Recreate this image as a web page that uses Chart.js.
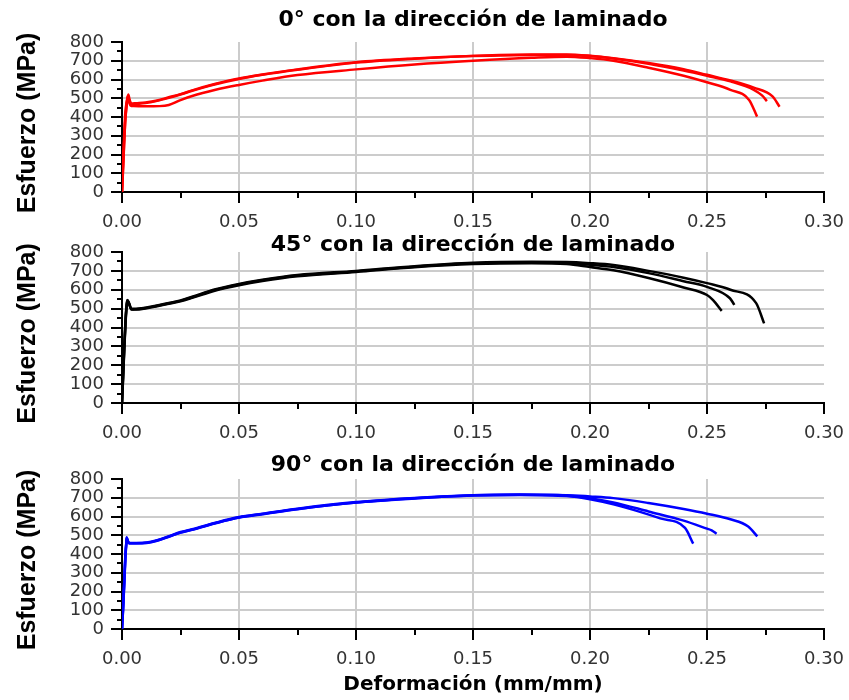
<!DOCTYPE html>
<html>
<head>
<meta charset="utf-8">
<script src="https://cdn.jsdelivr.net/npm/chart.js@4.4.1/dist/chart.umd.min.js"></script>
<style>
  html, body { margin: 0; padding: 0; background: #ffffff; }
  #wrap { position: relative; width: 849px; height: 700px; background: #ffffff; }
  #wrap canvas { position: absolute; left: 0; top: 0; }
</style>
</head>
<body>
<div id="wrap">
  <canvas id="panel0" width="849" height="700"></canvas>
  <canvas id="panel45" width="849" height="700"></canvas>
  <canvas id="panel90" width="849" height="700"></canvas>
</div>
<script>
// Tensile tests: stress (MPa) vs strain (mm/mm), three specimens per rolling direction

// 0° to rolling direction
const strain0A = [0, 0.0004, 0.0009, 0.0014, 0.0019, 0.0024, 0.003, 0.0036, 0.005, 0.01, 0.016, 0.02, 0.025, 0.03, 0.04, 0.05, 0.06, 0.075, 0.1, 0.125, 0.15, 0.175, 0.19, 0.2, 0.21, 0.225, 0.24, 0.25, 0.26, 0.268, 0.2714];
const stress0A = [0, 120, 260, 380, 450, 505, 480, 462, 458, 457, 458, 464, 490, 512, 545, 571, 594, 624, 654, 680, 700, 716, 722, 714, 700, 663, 620, 585, 545, 491, 402];
const strain0B = [0, 0.0004, 0.0009, 0.0014, 0.002, 0.0027, 0.0032, 0.004, 0.006, 0.01, 0.015, 0.02, 0.025, 0.03, 0.04, 0.05, 0.06, 0.075, 0.1, 0.125, 0.15, 0.175, 0.19, 0.2, 0.21, 0.225, 0.24, 0.25, 0.26, 0.27, 0.2735, 0.2756];
const stress0B = [0, 150, 300, 420, 480, 520, 495, 472, 474, 478, 488, 505, 522, 542, 577, 606, 627, 654, 692, 712, 725, 731, 731, 725, 712, 684, 648, 620, 590, 545, 515, 485];
const strain0C = [0, 0.0005, 0.001, 0.0015, 0.002, 0.0025, 0.0031, 0.004, 0.006, 0.01, 0.015, 0.02, 0.025, 0.03, 0.04, 0.05, 0.06, 0.075, 0.1, 0.125, 0.15, 0.175, 0.19, 0.2, 0.21, 0.225, 0.24, 0.25, 0.26, 0.27, 0.278, 0.281];
const stress0C = [0, 130, 280, 400, 470, 512, 490, 468, 470, 474, 486, 502, 520, 540, 575, 603, 625, 652, 690, 711, 726, 733, 734, 727, 714, 688, 655, 625, 595, 557, 510, 455];

// 45° to rolling direction
const strain45A = [0, 0.0005, 0.001, 0.0015, 0.002, 0.0023, 0.003, 0.004, 0.006, 0.01, 0.015, 0.02, 0.025, 0.03, 0.04, 0.05, 0.06, 0.075, 0.1, 0.125, 0.15, 0.175, 0.19, 0.2, 0.21, 0.225, 0.24, 0.25, 0.2526, 0.2563];
const stress45A = [0, 150, 300, 430, 520, 546, 530, 497, 495, 501, 513, 526, 539, 557, 596, 624, 646, 671, 694, 719, 736, 741, 736, 720, 703, 662, 612, 572, 545, 488];
const strain45B = [0, 0.0005, 0.001, 0.0015, 0.002, 0.0024, 0.003, 0.004, 0.006, 0.01, 0.015, 0.02, 0.025, 0.03, 0.04, 0.05, 0.06, 0.075, 0.1, 0.125, 0.15, 0.175, 0.19, 0.2, 0.21, 0.225, 0.24, 0.25, 0.2598, 0.2617];
const stress45B = [0, 140, 290, 420, 510, 540, 525, 495, 497, 503, 515, 528, 541, 560, 600, 628, 650, 675, 697, 722, 740, 745, 742, 732, 720, 688, 645, 615, 555, 520];
const strain45C = [0, 0.0005, 0.001, 0.0015, 0.002, 0.0023, 0.003, 0.004, 0.006, 0.01, 0.015, 0.02, 0.025, 0.03, 0.04, 0.05, 0.06, 0.075, 0.1, 0.125, 0.15, 0.175, 0.19, 0.2, 0.21, 0.225, 0.24, 0.25, 0.26, 0.271, 0.2744];
const stress45C = [0, 160, 310, 440, 525, 545, 528, 500, 499, 505, 517, 530, 543, 563, 603, 631, 653, 678, 700, 725, 743, 748, 747, 741, 731, 700, 664, 635, 600, 529, 422];

// 90° to rolling direction
const strain90A = [0, 0.0005, 0.001, 0.0015, 0.0018, 0.002, 0.0025, 0.003, 0.006, 0.0105, 0.015, 0.02, 0.025, 0.03, 0.04, 0.05, 0.06, 0.075, 0.1, 0.125, 0.15, 0.17, 0.19, 0.2, 0.21, 0.22, 0.23, 0.2406, 0.2441];
const stress90A = [0, 120, 260, 400, 450, 489, 470, 459, 459, 460, 472, 493, 515, 530, 565, 595, 613, 640, 675, 697, 712, 715, 709, 692, 665, 630, 590, 539, 455];
const strain90B = [0, 0.0005, 0.001, 0.0015, 0.0018, 0.002, 0.0025, 0.003, 0.006, 0.0105, 0.015, 0.02, 0.025, 0.03, 0.04, 0.05, 0.06, 0.075, 0.1, 0.125, 0.15, 0.17, 0.19, 0.2, 0.21, 0.225, 0.24, 0.25, 0.252, 0.2541];
const stress90B = [0, 110, 250, 390, 445, 484, 468, 458, 458, 461, 474, 495, 517, 532, 567, 597, 615, 642, 677, 699, 714, 717, 712, 698, 675, 627, 578, 535, 526, 508];
const strain90C = [0, 0.0005, 0.001, 0.0015, 0.0018, 0.002, 0.0025, 0.003, 0.006, 0.0105, 0.015, 0.02, 0.025, 0.03, 0.04, 0.05, 0.06, 0.075, 0.1, 0.125, 0.15, 0.17, 0.19, 0.2, 0.21, 0.225, 0.24, 0.25, 0.26, 0.2676, 0.2715];
const stress90C = [0, 130, 270, 410, 455, 487, 469, 457, 457, 459, 471, 492, 514, 529, 564, 594, 612, 639, 674, 696, 713, 716, 714, 707, 698, 672, 640, 615, 585, 547, 494];

// Axis ranges and tick steps
const strainMin = 0, strainMax = 0.30, strainStep = 0.05, strainMinorStep = 0.025;
const stressMin = 0, stressMax = 800, stressStep = 100, stressMinorStep = 50;

const panelTitles = [
  '0° con la dirección de laminado',
  '45° con la dirección de laminado',
  '90° con la dirección de laminado'
];
const yAxisTitle = 'Esfuerzo (MPa)';
const xAxisTitle = 'Deformación (mm/mm)';

const X_AXIS_H = 40;
const Y_AXIS_W = 122;
const EPS = 1e-6;

function toPoints(xs, ys) {
  return xs.map((x, i) => ({ x: x, y: ys[i] }));
}

// Tick marks (major + minor) drawn on both axes, outward
const axisTicks = {
  id: 'axisTicks',
  afterDatasetsDraw(chart) {
    const { ctx } = chart;
    const x = chart.scales.x, y = chart.scales.y;
    ctx.save();
    ctx.strokeStyle = '#000';
    ctx.lineWidth = 2;
    ctx.lineCap = 'butt';
    const nY = Math.round((stressMax - stressMin) / stressMinorStep);
    for (let i = 0; i <= nY; i++) {
      const v = stressMin + i * stressMinorStep;
      const py = Math.round(y.getPixelForValue(v));
      const major = Math.abs(v / stressStep - Math.round(v / stressStep)) < EPS;
      const len = major ? 11 : 5;
      ctx.beginPath();
      ctx.moveTo(x.left, py);
      ctx.lineTo(x.left - len, py);
      ctx.stroke();
    }
    const nX = Math.round((strainMax - strainMin) / strainMinorStep);
    for (let i = 0; i <= nX; i++) {
      const v = strainMin + i * strainMinorStep;
      const px = Math.round(x.getPixelForValue(v));
      const major = i % 2 === 0;
      const len = major ? 11 : 6;
      ctx.beginPath();
      ctx.moveTo(px, y.bottom);
      ctx.lineTo(px, y.bottom + len);
      ctx.stroke();
    }
    ctx.restore();
  }
};

// Panel heading and axis titles
const panelText = {
  id: 'panelText',
  afterDraw(chart, args, opts) {
    const { ctx, chartArea } = chart;
    const cx = (chartArea.left + chartArea.right) / 2;
    ctx.save();
    ctx.fillStyle = '#000';
    ctx.textAlign = 'center';
    ctx.textBaseline = 'alphabetic';
    ctx.font = 'bold 22px "DejaVu Sans"';
    ctx.fillText(opts.title, cx, opts.titleBaseline);

    ctx.save();
    ctx.translate(35, (chartArea.top + chartArea.bottom) / 2 + 6);
    ctx.rotate(-Math.PI / 2);
    ctx.font = 'bold 25px "Liberation Sans"';
    ctx.fillText(yAxisTitle, 0, 0);
    ctx.restore();

    if (opts.showXTitle) {
      ctx.font = 'bold 20px "DejaVu Sans"';
      ctx.fillText(xAxisTitle, cx, opts.xTitleBaseline);
    }
    ctx.restore();
  }
};

function makePanel(canvasId, title, series, color, geom) {
  const datasets = series.map(s => ({
    data: toPoints(s[0], s[1]),
    borderColor: color,
    backgroundColor: color,
    borderWidth: 2.5,
    pointRadius: 0,
    fill: false,
    cubicInterpolationMode: 'monotone'
  }));
  return new Chart(document.getElementById(canvasId), {
    type: 'line',
    data: { datasets: datasets },
    options: {
      responsive: false,
      animation: false,
      devicePixelRatio: 1,
      parsing: false,
      layout: {
        padding: {
          top: geom.top,
          bottom: 700 - geom.bottom - X_AXIS_H,
          left: 0,
          right: 25
        }
      },
      plugins: {
        legend: { display: false },
        tooltip: { enabled: false },
        title: { display: false },
        panelText: {
          title: title,
          titleBaseline: geom.titleBaseline,
          showXTitle: !!geom.showXTitle,
          xTitleBaseline: geom.xTitleBaseline
        }
      },
      scales: {
        x: {
          type: 'linear',
          min: strainMin,
          max: strainMax,
          afterFit: s => { s.height = X_AXIS_H; s.paddingLeft = 0; s.paddingRight = 0; },
          ticks: {
            stepSize: strainStep,
            autoSkip: false,
            maxRotation: 0,
            padding: 20,
            color: '#333',
            font: { family: 'DejaVu Sans', size: 18 },
            callback: v => Number(v).toFixed(2)
          },
          grid: {
            drawTicks: false,
            lineWidth: 2,
            color: c => (c.tick && c.tick.value > strainMin + EPS && c.tick.value < strainMax - EPS) ? '#cccccc' : 'rgba(0,0,0,0)'
          },
          border: { display: true, color: '#000', width: 2 }
        },
        y: {
          type: 'linear',
          min: stressMin,
          max: stressMax,
          afterFit: s => { s.width = Y_AXIS_W; s.paddingTop = 0; s.paddingBottom = 0; },
          ticks: {
            stepSize: stressStep,
            autoSkip: false,
            padding: 18,
            color: '#333',
            font: { family: 'DejaVu Sans', size: 18 },
            callback: v => String(Math.round(v))
          },
          grid: {
            drawTicks: false,
            lineWidth: 2,
            color: c => (c.tick && c.tick.value > stressMin + EPS && c.tick.value < stressMax - EPS) ? '#cccccc' : 'rgba(0,0,0,0)'
          },
          border: { display: true, color: '#000', width: 2 }
        }
      }
    },
    plugins: [axisTicks, panelText]
  });
}

makePanel('panel0', panelTitles[0],
  [[strain0A, stress0A], [strain0B, stress0B], [strain0C, stress0C]],
  '#ff0000', { top: 42, bottom: 192, titleBaseline: 26 });

makePanel('panel45', panelTitles[1],
  [[strain45A, stress45A], [strain45B, stress45B], [strain45C, stress45C]],
  '#000000', { top: 252, bottom: 403, titleBaseline: 251 });

makePanel('panel90', panelTitles[2],
  [[strain90A, stress90A], [strain90B, stress90B], [strain90C, stress90C]],
  '#0000ff', { top: 479, bottom: 629, titleBaseline: 471, showXTitle: true, xTitleBaseline: 690 });
</script>
</body>
</html>
